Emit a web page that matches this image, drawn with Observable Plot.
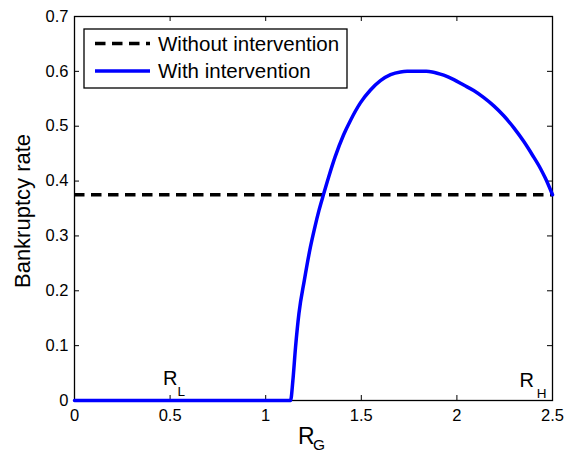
<!DOCTYPE html>
<html>
<head>
<meta charset="utf-8">
<script src="https://cdn.jsdelivr.net/npm/d3@7"></script>
<script src="https://cdn.jsdelivr.net/npm/@observablehq/plot@0.6"></script>
<style>
  html, body { margin: 0; padding: 0; background: #fff; }
  #chart { width: 566px; height: 452px; }
</style>
</head>
<body>
<div id="chart"></div>
<script>
// ---- Data ----
const rg   = [0, 1.130, 1.142, 1.156, 1.174, 1.202, 1.234, 1.255, 1.279, 1.301, 1.329, 1.363, 1.407, 1.444, 1.496, 1.548, 1.600, 1.653, 1.705, 1.740, 1.840, 1.871, 1.931, 1.984, 2.036, 2.088, 2.141, 2.193, 2.245, 2.298, 2.350, 2.394, 2.437, 2.463, 2.5];
const rate = [0, 0,     0.036, 0.097, 0.159, 0.219, 0.280, 0.313, 0.347, 0.374, 0.407, 0.444, 0.484, 0.511, 0.543, 0.566, 0.583, 0.594, 0.599, 0.600, 0.600, 0.599, 0.593, 0.585, 0.575, 0.565, 0.552, 0.537, 0.519, 0.497, 0.472, 0.448, 0.423, 0.405, 0.375];
const baselineRate = 0.375;
const xTicks = [0, 0.5, 1, 1.5, 2, 2.5];
const yTicks = [0, 0.1, 0.2, 0.3, 0.4, 0.5, 0.6, 0.7];
const seriesNames = ["Without intervention", "With intervention"];
const yLabel = "Bankruptcy rate";
const xLabelMain = "R", xLabelSub = "G";
const markerX = [0.5, 2.5];
const markerMain = ["R", "R"];
const markerSub = ["L", "H"];

const withData = rg.map((x, i) => ({x, y: rate[i]}));

const W = 566, H = 452;
const mL = 74, mR = 14, mT = 16, mB = 52;
const innerW = W - mL - mR, innerH = H - mT - mB;
const tickLen = 5;
const FONT = "'Liberation Sans', Arial, Helvetica, sans-serif";

const plot = Plot.plot({
  width: W,
  height: H,
  marginLeft: mL, marginRight: mR, marginTop: mT, marginBottom: mB,
  style: {fontFamily: FONT, fontSize: "16px", background: "white", color: "black"},
  x: {domain: [0, 2.5], label: null},
  y: {domain: [0, 0.7], label: null},
  marks: [
    Plot.frame({stroke: "black", strokeWidth: 1.3}),
    // inward ticks on all four sides
    Plot.ruleX(xTicks, {x: d => d, insetTop: innerH - tickLen, stroke: "black", strokeWidth: 1}),
    Plot.ruleX(xTicks, {x: d => d, insetBottom: innerH - tickLen, stroke: "black", strokeWidth: 1}),
    Plot.ruleY(yTicks, {y: d => d, insetRight: innerW - tickLen, stroke: "black", strokeWidth: 1}),
    Plot.ruleY(yTicks, {y: d => d, insetLeft: innerW - tickLen, stroke: "black", strokeWidth: 1}),
    Plot.axisX({ticks: xTicks, tickSize: 0, tickPadding: 9, fontSize: 16.5, tickFormat: d => String(d), label: null}),
    Plot.axisY({ticks: yTicks, tickSize: 0, tickPadding: 6, fontSize: 16.5, tickFormat: d => String(d), label: null}),
    // series
    Plot.ruleY([baselineRate], {stroke: "black", strokeWidth: 3.5, strokeDasharray: "10.5,6.5"}),
    Plot.line(withData, {x: "x", y: "y", stroke: "#0000ff", strokeWidth: 3.5, curve: "monotone-x", strokeLinejoin: "round"}),
    // R_L and R_H annotations
    Plot.text([0], {x: () => markerX[0], y: () => 0, text: () => markerMain[0], textAnchor: "start", lineAnchor: "bottom", dx: -7, dy: -16, fontSize: 20, fill: "black"}),
    Plot.text([0], {x: () => markerX[0], y: () => 0, text: () => markerSub[0], textAnchor: "start", lineAnchor: "bottom", dx: 7.5, dy: -5, fontSize: 13.5, fill: "black"}),
    Plot.text([1], {x: () => markerX[1], y: () => 0, text: () => markerMain[1], textAnchor: "end", lineAnchor: "bottom", dx: -18.5, dy: -13.5, fontSize: 20, fill: "black"}),
    Plot.text([1], {x: () => markerX[1], y: () => 0, text: () => markerSub[1], textAnchor: "end", lineAnchor: "bottom", dx: -6, dy: -2.5, fontSize: 13.5, fill: "black"}),
    // axis labels
    Plot.text([yLabel], {text: d => d, frameAnchor: "left", rotate: -90, dx: -52, dy: 2.5, fontSize: 22, fill: "black", textAnchor: "middle"}),
    Plot.text([xLabelMain], {text: d => d, frameAnchor: "bottom", textAnchor: "start", lineAnchor: "bottom", dx: -15.5, dy: 43, fontSize: 23, fill: "black"}),
    Plot.text([xLabelSub], {text: d => d, frameAnchor: "bottom", textAnchor: "start", lineAnchor: "bottom", dx: -0.5, dy: 49.5, fontSize: 15.5, fill: "black"})
  ]
});

// ---- Legend (inside the axes, top-left) ----
const svg = d3.select(plot);
const lg = svg.append("g").attr("class", "legend").attr("text-anchor", "start");
lg.append("rect")
  .attr("x", 84).attr("y", 29).attr("width", 263).attr("height", 59)
  .attr("fill", "white").attr("stroke", "black").attr("stroke-width", 1.3);
const rows = [
  {name: seriesNames[0], stroke: "black", dash: "10.5,6.5", y: 43.5},
  {name: seriesNames[1], stroke: "#0000ff", dash: null, y: 71}
];
rows.forEach(r => {
  lg.append("line")
    .attr("x1", 95).attr("x2", 150).attr("y1", r.y).attr("y2", r.y)
    .attr("stroke", r.stroke).attr("stroke-width", 3.5)
    .attr("stroke-dasharray", r.dash);
  lg.append("text")
    .attr("x", 158).attr("y", r.y).attr("dy", "0.35em")
    .attr("text-anchor", "start")
    .attr("font-size", 20.5).attr("font-family", FONT).attr("fill", "black")
    .text(r.name);
});

document.getElementById("chart").appendChild(plot);
</script>
</body>
</html>
